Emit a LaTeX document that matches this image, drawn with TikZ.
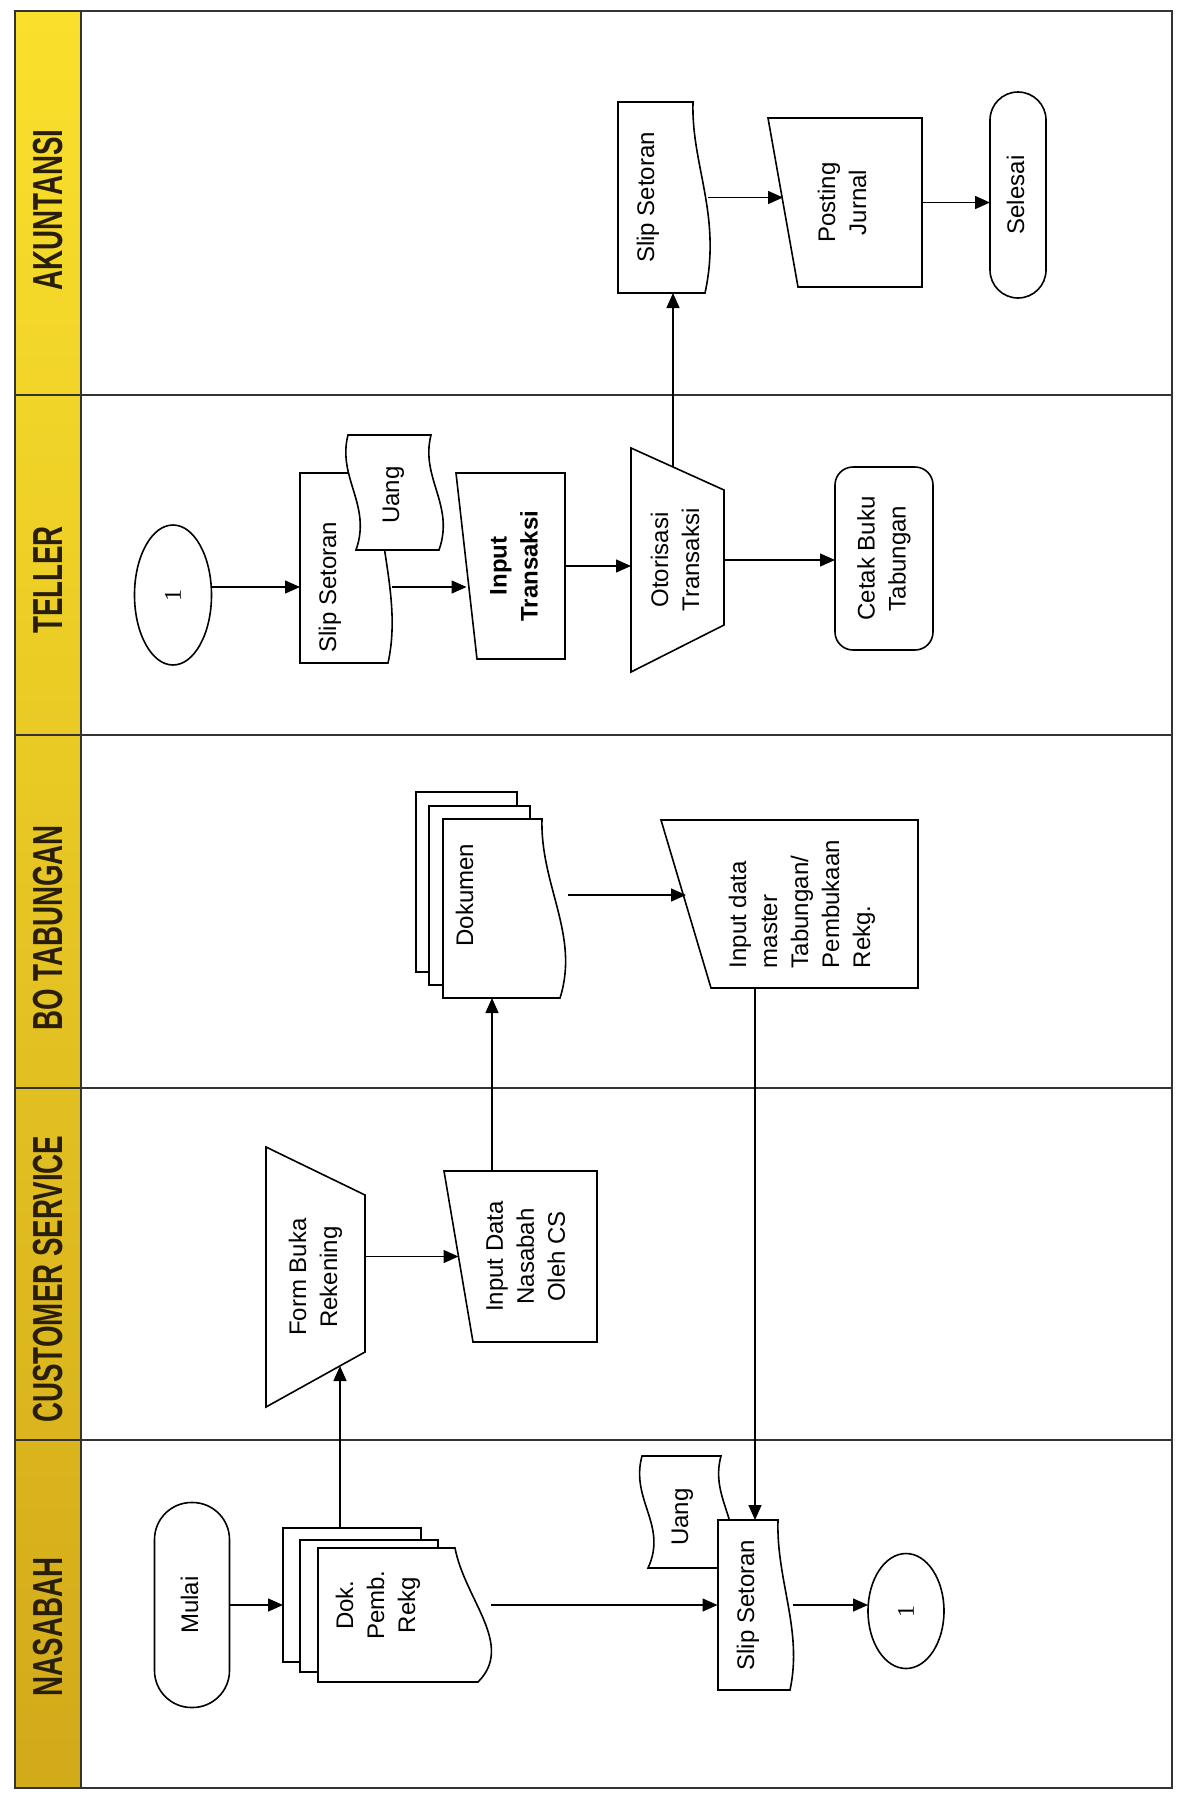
\documentclass[tikz,border=0pt]{standalone}
\usepackage{fontspec}
\setmainfont{Liberation Sans}
\newfontfamily\hdrfont[FakeStretch=0.66]{Liberation Sans}
\newfontfamily\onefont{Liberation Serif}
\usepackage{tikz}
\usetikzlibrary{arrows.meta,shapes.geometric}
\definecolor{hdrA}{RGB}{250,224,44}
\definecolor{hdrB}{RGB}{247,221,32}
\definecolor{hdrC}{RGB}{210,170,26}
\definecolor{hdrtxt}{RGB}{40,30,10}
\newcommand{\vlab}[2][c]{\rotatebox{90}{\begin{tabular}{@{}#1@{}}#2\end{tabular}}}

\begin{document}
\begin{tikzpicture}[x=1pt,y=-1pt,line width=1.2pt,
    shp/.style={draw,line width=1.6pt,fill=white},
    txt/.style={inner sep=0pt,outer sep=0pt,font=\fontsize{24}{31}\selectfont},
    arr/.style={-{Triangle[length=15pt,width=13pt]},line width=1.5pt},
    lane/.style={font=\hdrfont\bfseries\fontsize{42}{48}\selectfont,text=hdrtxt,inner sep=0pt,rotate=90}]
    \fill[white] (0,0) rectangle (1180,1807);
    \shade[top color=hdrA,middle color=hdrB,bottom color=hdrC] (15,11) rectangle (81,1788);
    \draw[black!80] (15,11) rectangle (1172,1788);
    \draw[black!80] (81,11) -- (81,1788);
    \foreach \y in {395,735,1088,1440}
        \draw[black!80] (15,\y) -- (1172,\y);
    \node[lane] (hAk) at (48,210) {AKUNTANSI};
    \node[lane] (hTl) at (48,580) {TELLER};
    \node[lane] (hBo) at (48,928) {BO TABUNGAN};
    \node[lane] (hCs) at (48,1279) {CUSTOMER SERVICE};
    \node[lane] (hNs) at (48,1627) {NASABAH};

    \draw[shp] (618,102) -- (693,102) .. controls (691,165) and (722,215) .. (705,293) -- (618,293) -- cycle;
    \node[txt,minimum width=90pt,minimum height=191pt] (slipA) at (663,197.5) {\vlab{Slip Setoran}\hspace*{30pt}};
    \draw[shp] (768,118) -- (922,118) -- (922,287) -- (798,287) -- cycle;
    \node[txt,minimum width=139pt,minimum height=169pt] (postJ) at (852.5,202.5) {\vlab{Posting\\Jurnal}\hspace*{16pt}};
    \node[txt,draw,line width=1.6pt,rounded corners=28pt,minimum width=56pt,minimum height=206pt] (selesai) at (1018,195) {\vlab{Selesai}};

    \node[txt,draw,ellipse,line width=1.6pt,minimum width=77pt,minimum height=140pt] (conT) at (173,595) {\rotatebox{90}{\onefont\fontsize{24}{28}\selectfont 1}};
    \draw[shp] (300,473) -- (378,473) .. controls (376,540) and (402,600) .. (388,663) -- (300,663) -- cycle;
    \draw[shp] (348,435) -- (431,435) .. controls (420,478) and (455,505) .. (439,550) -- (356,550) .. controls (372,505) and (337,478) .. (348,435) -- cycle;
    \node[txt,minimum width=92pt,minimum height=152pt] (slipT) at (346,587) {\vlab{Slip Setoran}\hspace*{32pt}};
    \node[txt,minimum width=80pt,minimum height=110pt] (uangT) at (393,495) {\vlab{Uang}};
    \draw[shp] (456,473) -- (565,473) -- (565,659) -- (477,659) -- cycle;
    \node[txt,minimum width=99pt,minimum height=186pt] (inT) at (516,566) {\bfseries\vlab{Input\\Transaksi}};
    \draw[shp] (631,448) -- (724,490) -- (724,625) -- (631,672) -- cycle;
    \node[txt,minimum width=93pt,minimum height=224pt] (otor) at (677.5,560) {\vlab{Otorisasi\\Transaksi}};
    \coordinate (otorTop) at (673,467);
    \node[txt,draw,line width=1.6pt,rounded corners=18pt,minimum width=98pt,minimum height=183pt] (cetak) at (884,558.5) {\vlab{Cetak Buku\\Tabungan}};

    \draw[shp] (416,792) rectangle (517,972);
    \draw[shp] (429,806) rectangle (530,985);
    \draw[shp] (443,819) -- (542,819) .. controls (540,885) and (580,935) .. (560,998) -- (443,998) -- cycle;
    \node[txt,minimum width=152pt,minimum height=206pt] (dokB) at (492,895) {\vlab{Dokumen}\hspace*{50pt}};
    \draw[shp] (661,820) -- (918,820) -- (918,988) -- (711,988) -- cycle;
    \node[txt,minimum width=232pt,minimum height=168pt] (inMas) at (802,904) {\vlab[l]{Input data\\master\\Tabungan/\\Pembukaan\\Rekg.}};

    \draw[shp] (266,1147) -- (365,1195) -- (365,1352) -- (266,1407) -- cycle;
    \node[txt,minimum width=99pt,minimum height=260pt] (frm) at (315.5,1277) {\vlab{Form Buka\\Rekening}};
    \coordinate (frmIn) at (340,1366);
    \draw[shp] (444,1171) -- (597,1171) -- (597,1342) -- (473,1342) -- cycle;
    \node[txt,minimum width=138.5pt,minimum height=171pt] (inNas) at (527.75,1256.5) {\vlab{Input Data\\Nasabah\\Oleh CS}};

    \node[txt,draw,line width=1.6pt,rounded corners=37pt,minimum width=75pt,minimum height=205pt] (mulai) at (192,1605) {\vlab{Mulai}};
    \draw[shp] (283,1528) rectangle (421,1662);
    \draw[shp] (300,1540) rectangle (438,1672);
    \draw[shp] (318,1548) -- (455,1548) .. controls (465,1600) and (515,1645) .. (478,1682) -- (318,1682) -- cycle;
    \node[txt,minimum width=208pt,minimum height=154pt] (dokN) at (387,1605) {\vlab{Dok.\\Pemb.\\Rekg}\hspace*{18pt}};
    \draw[shp] (642,1456) -- (721,1456) .. controls (709,1500) and (747,1525) .. (727,1568) -- (648,1568) .. controls (668,1525) and (630,1500) .. (642,1456) -- cycle;
    \node[txt,minimum width=76pt,minimum height=110pt] (uangN) at (682,1517) {\vlab{Uang}};
    \draw[shp] (718,1520) -- (778,1520) .. controls (776,1580) and (803,1630) .. (790,1690) -- (718,1690) -- cycle;
    \node[txt,minimum width=75pt,minimum height=170pt] (slipN) at (755,1605) {\vlab{Slip Setoran}\hspace*{14pt}};
    \node[txt,draw,ellipse,line width=1.6pt,minimum width=76pt,minimum height=115pt] (conN) at (906,1611) {\rotatebox{90}{\onefont\fontsize{24}{28}\selectfont 1}};

    \draw[arr] (mulai.east) -- (mulai.east -| dokN.west);
    \draw[arr] (dokN.east) -- (dokN.east -| slipN.west);
    \draw[arr] (slipN.east) -- (slipN.east -| conN.west);
    \draw[arr] (dokN.north -| frmIn) -- (frmIn);
    \draw[arr] (frm.east |- inNas.west) -- (inNas.west);
    \draw[arr] (dokB.south |- inNas.north) -- (dokB.south);
    \draw[arr] (dokB.east) -- (dokB.east -| inMas.west);
    \draw[arr] (inMas.south -| slipN.north) -- (slipN.north);
    \draw[arr] (conT.east |- slipT.west) -- (slipT.west);
    \draw[arr] (slipT.east) -- (slipT.east -| inT.west);
    \draw[arr] (inT.east) -- (inT.east -| otor.west);
    \draw[arr] (otor.east) -- (otor.east -| cetak.west);
    \draw[arr] (otorTop) -- (otorTop |- slipA.south);
    \draw[arr] (slipA.east) -- (slipA.east -| postJ.west);
    \draw[arr] (postJ.east) -- (postJ.east -| selesai.west);
\end{tikzpicture}
\end{document}
